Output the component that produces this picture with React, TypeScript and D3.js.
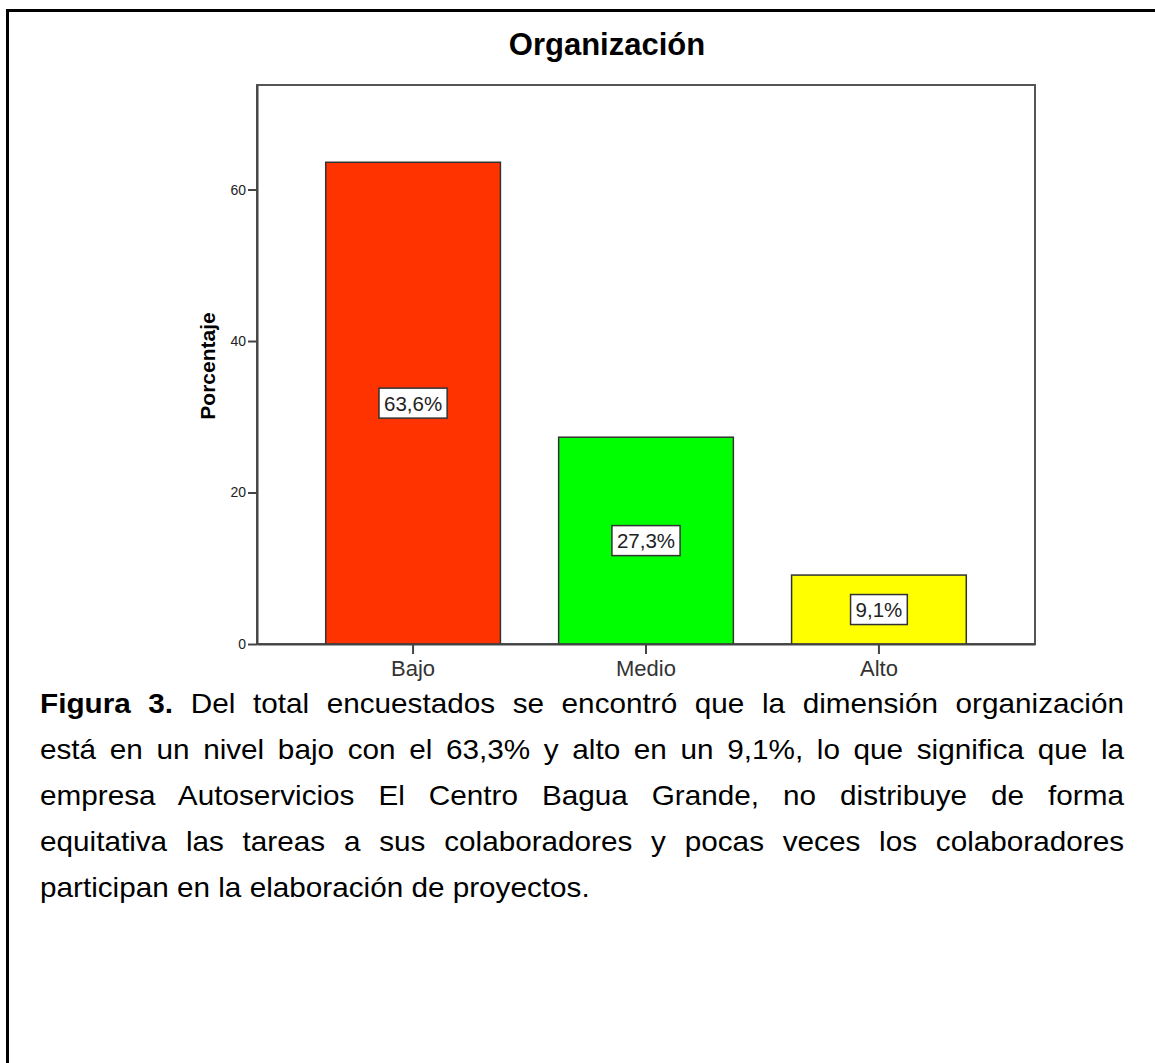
import * as d3 from "d3";
import React, { useRef, useEffect } from "react";

const categories: string[] = ["Bajo", "Medio", "Alto"];
const percentages: number[] = [63.6, 27.3, 9.1];
const barLabels: string[] = ["63,6%", "27,3%", "9,1%"];
const barColors: string[] = ["#ff3300", "#00ff00", "#ffff00"];
const yTicks: number[] = [0, 20, 40, 60];

const chartTitle = "Organización";
const yAxisLabel = "Porcentaje";
const captionBold = "Figura 3.";
const captionLines: string[] = [
  " Del total encuestados se encontró que la dimensión organización",
  "está en un nivel bajo con el 63,3% y alto en un 9,1%, lo que significa que la",
  "empresa Autoservicios El Centro Bagua Grande, no distribuye de forma",
  "equitativa las tareas a sus colaboradores y pocas veces los colaboradores",
  "participan en la elaboración de proyectos.",
];

const FONT = "'Liberation Sans', Arial, Helvetica, sans-serif";

const App: React.FC = () => {
  const svgRef = useRef<SVGSVGElement>(null);

  useEffect(() => {
    if (!svgRef.current) return;
    const svg = d3.select(svgRef.current);
    svg.selectAll("*").remove();

    const left = 257;
    const right = 1035;
    const top = 85;
    const bottom = 644;

    // outer page border (left + top)
    svg
      .append("path")
      .attr("d", `M7.5,1063 L7.5,10.5 L1160,10.5`)
      .attr("fill", "none")
      .attr("stroke", "#000")
      .attr("stroke-width", 3);

    const x = d3
      .scaleBand<string>()
      .domain(categories)
      .range([left, right])
      .paddingInner(0.25)
      .paddingOuter(0.295);

    const y = d3.scaleLinear().domain([0, 73.8]).range([bottom, top]);

    // plot frame
    svg
      .append("rect")
      .attr("x", left)
      .attr("y", top)
      .attr("width", right - left)
      .attr("height", bottom - top)
      .attr("fill", "#fff")
      .attr("stroke", "#555")
      .attr("stroke-width", 2);

    // title
    svg
      .append("text")
      .attr("x", 607)
      .attr("y", 55)
      .attr("text-anchor", "middle")
      .attr("font-family", FONT)
      .attr("font-weight", "bold")
      .attr("font-size", 31)
      .attr("fill", "#000")
      .text(chartTitle);

    // bars
    svg
      .selectAll(".bar")
      .data(percentages)
      .join("rect")
      .attr("class", "bar")
      .attr("x", (_d, i) => x(categories[i]) as number)
      .attr("y", (d) => y(d))
      .attr("width", x.bandwidth())
      .attr("height", (d) => bottom - y(d))
      .attr("fill", (_d, i) => barColors[i])
      .attr("stroke", "#333")
      .attr("stroke-width", 1.5);

    // axes
    const yAxis = svg
      .append("g")
      .attr("transform", `translate(${left},0)`)
      .call(
        d3.axisLeft(y).tickValues(yTicks).tickSize(9).tickSizeOuter(0).tickPadding(2)
      );
    yAxis.select(".domain").attr("stroke", "#444").attr("stroke-width", 2);
    yAxis.selectAll(".tick line").attr("stroke", "#444").attr("stroke-width", 2);
    yAxis
      .selectAll(".tick text")
      .attr("font-family", FONT)
      .attr("font-size", 14)
      .attr("fill", "#222");

    const xAxis = svg
      .append("g")
      .attr("transform", `translate(0,${bottom})`)
      .call(d3.axisBottom(x).tickSize(10).tickSizeOuter(0).tickPadding(6));
    xAxis.select(".domain").attr("stroke", "#444").attr("stroke-width", 2);
    xAxis.selectAll(".tick line").attr("stroke", "#444").attr("stroke-width", 2);
    xAxis
      .selectAll(".tick text")
      .attr("font-family", FONT)
      .attr("font-size", 22)
      .attr("fill", "#333");

    svg
      .append("text")
      .attr("transform", `translate(215,366) rotate(-90)`)
      .attr("text-anchor", "middle")
      .attr("font-family", FONT)
      .attr("font-weight", "bold")
      .attr("font-size", 21)
      .attr("fill", "#000")
      .text(yAxisLabel);

    // value labels in boxes
    const lbl = svg
      .selectAll(".lbl")
      .data(percentages)
      .join("g")
      .attr("class", "lbl")
      .attr(
        "transform",
        (d, i) =>
          `translate(${(x(categories[i]) as number) + x.bandwidth() / 2},${y(d / 2)})`
      );
    const boxes = lbl
      .append("rect")
      .attr("fill", "#fff")
      .attr("stroke", "#333")
      .attr("stroke-width", 1.5);
    const texts = lbl
      .append("text")
      .attr("text-anchor", "middle")
      .attr("dy", "0.36em")
      .attr("font-family", FONT)
      .attr("font-size", 20.5)
      .attr("fill", "#222")
      .text((_d, i) => barLabels[i]);
    texts.each(function (_d, i) {
      const w = (this as SVGTextElement).getComputedTextLength() + 10;
      d3.select(boxes.nodes()[i])
        .attr("x", -w / 2)
        .attr("y", -15)
        .attr("width", w)
        .attr("height", 30);
    });

    // caption, justified (glyphs are a bit wide in the source)
    const capLeft = 40;
    const capRight = 1124;
    const stretch = 1.1;
    captionLines.forEach((line, i) => {
      const t = svg
        .append("text")
        .attr("transform", `translate(${capLeft},${713 + i * 46}) scale(${stretch},1)`)
        .attr("font-family", FONT)
        .attr("font-size", 27)
        .attr("fill", "#000");
      if (i === 0) {
        t.append("tspan").attr("font-weight", "bold").text(captionBold);
      }
      t.append("tspan").text(line);
      if (i < captionLines.length - 1) {
        const node = t.node() as SVGTextElement;
        const natural = node.getComputedTextLength();
        const full = (i === 0 ? captionBold : "") + line;
        const spaces = (full.match(/ /g) || []).length;
        if (spaces > 0) {
          t.attr("word-spacing", ((capRight - capLeft) / stretch - natural) / spaces);
        }
      }
    });
  }, []);

  return (
    <svg
      ref={svgRef}
      width={1155}
      height={1063}
      style={{ position: "absolute", left: 0, top: 0, background: "#fff" }}
    ></svg>
  );
};

export default App;
